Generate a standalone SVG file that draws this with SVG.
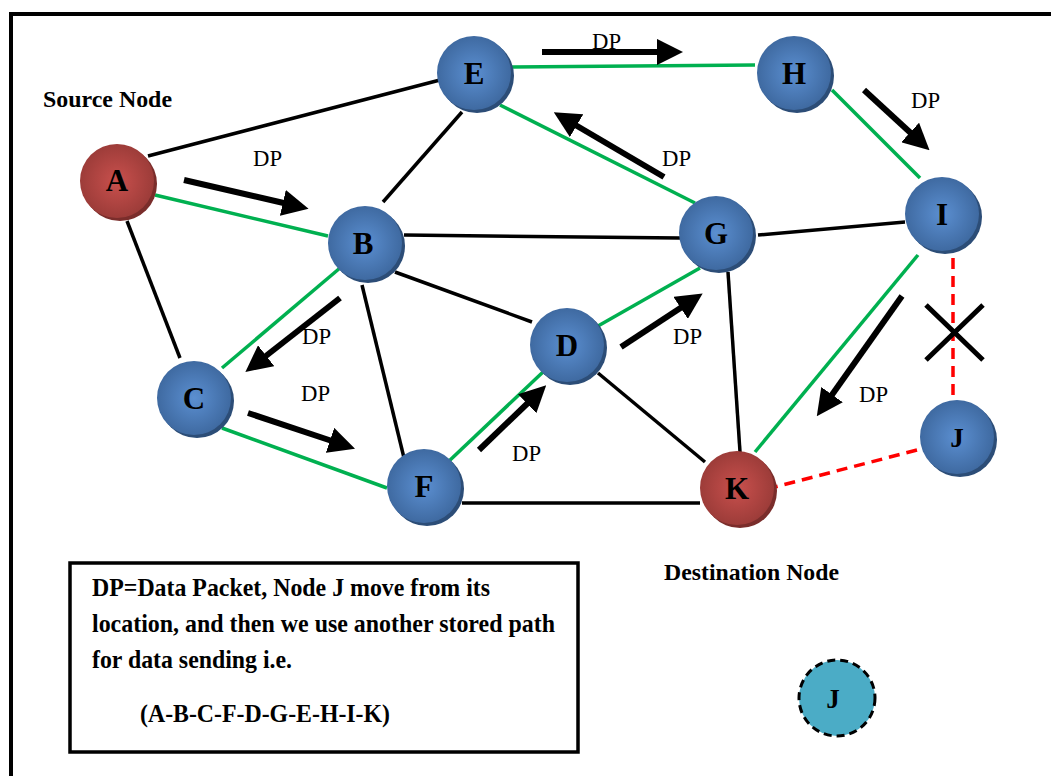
<svg xmlns="http://www.w3.org/2000/svg" width="1051" height="776" viewBox="0 0 1051 776">
<style>
.blk{stroke:#000;stroke-width:3.5;fill:none}
.grn{stroke:#00b050;stroke-width:3.5;fill:none}
.red{stroke:#ff0000;stroke-width:3.5;fill:none;stroke-dasharray:11 7}
.arr{stroke:#000;stroke-width:6;fill:none;marker-end:url(#ah)}
</style>
<defs>
<radialGradient id="gb" cx="50%" cy="50%" r="55%">
<stop offset="0" stop-color="#5b8fd1"/><stop offset="1" stop-color="#3c669c"/>
</radialGradient>
<radialGradient id="gr" cx="50%" cy="50%" r="55%">
<stop offset="0" stop-color="#c9504d"/><stop offset="1" stop-color="#983a37"/>
</radialGradient>
<marker id="ah" viewBox="0 0 10 10" refX="2" refY="5" markerWidth="4.4" markerHeight="4.4" orient="auto" markerUnits="strokeWidth">
<path d="M0,0 L10,5 L0,10 z" fill="#000"/>
</marker>
</defs>
<rect x="11" y="14" width="1060" height="800" fill="#fff" stroke="#000" stroke-width="4"/>
<g id="connectors">
<line class="blk" x1="148" y1="156" x2="440" y2="80"/>
<line class="blk" x1="127" y1="221" x2="180" y2="358"/>
<line class="blk" x1="462" y1="112" x2="383" y2="202"/>
<line class="blk" x1="404" y1="235" x2="680" y2="238"/>
<line class="blk" x1="758" y1="235" x2="905" y2="222"/>
<line class="blk" x1="395" y1="272" x2="532" y2="322"/>
<line class="blk" x1="362" y1="285" x2="405" y2="462"/>
<line class="blk" x1="598" y1="373" x2="705" y2="462"/>
<line class="blk" x1="728" y1="272" x2="740" y2="452"/>
<line class="blk" x1="462" y1="503" x2="700" y2="503"/>
<line class="grn" x1="155" y1="195" x2="328" y2="236"/>
<line class="grn" x1="512" y1="67" x2="755" y2="65"/>
<line class="grn" x1="832" y1="90" x2="920" y2="178"/>
<line class="grn" x1="500" y1="105" x2="695" y2="203"/>
<line class="grn" x1="340" y1="268" x2="222" y2="368"/>
<line class="grn" x1="222" y1="428" x2="387" y2="488"/>
<line class="grn" x1="448" y1="462" x2="543" y2="372"/>
<line class="grn" x1="598" y1="326" x2="700" y2="268"/>
<line class="grn" x1="918" y1="255" x2="755" y2="452"/>
<line class="red" x1="953" y1="258" x2="953" y2="400"/>
<line class="red" x1="917" y1="450" x2="775" y2="487"/>
<path d="M926,305 L983,360 M983,305 L926,360" stroke="#000" stroke-width="5" fill="none"/>
<line class="arr" x1="184" y1="180" x2="288" y2="204"/>
<line class="arr" x1="542" y1="52" x2="662" y2="52"/>
<line class="arr" x1="864" y1="90" x2="914" y2="136"/>
<line class="arr" x1="664" y1="177" x2="572" y2="123"/>
<line class="arr" x1="340" y1="298" x2="262" y2="359"/>
<line class="arr" x1="248" y1="413" x2="335" y2="442"/>
<line class="arr" x1="479" y1="450" x2="531" y2="400"/>
<line class="arr" x1="621" y1="347" x2="685" y2="305"/>
<line class="arr" x1="902" y1="296" x2="829" y2="399"/>
<g font-family="Liberation Serif, Times New Roman, serif" font-size="23" fill="#000">
<text x="253" y="166" textLength="29" lengthAdjust="spacingAndGlyphs">DP</text>
<text x="592" y="49" textLength="29" lengthAdjust="spacingAndGlyphs">DP</text>
<text x="911" y="108" textLength="29" lengthAdjust="spacingAndGlyphs">DP</text>
<text x="662" y="166" textLength="29" lengthAdjust="spacingAndGlyphs">DP</text>
<text x="302" y="344" textLength="29" lengthAdjust="spacingAndGlyphs">DP</text>
<text x="301" y="401" textLength="29" lengthAdjust="spacingAndGlyphs">DP</text>
<text x="512" y="461" textLength="29" lengthAdjust="spacingAndGlyphs">DP</text>
<text x="673" y="344" textLength="29" lengthAdjust="spacingAndGlyphs">DP</text>
<text x="859" y="402" textLength="29" lengthAdjust="spacingAndGlyphs">DP</text>
</g>
</g>
<g font-family="Liberation Serif, Times New Roman, serif" font-size="31" font-weight="bold" text-anchor="middle" fill="#000">
<g id="node-A"><circle cx="120" cy="184" r="37" fill="#7a2d2b"/><circle cx="117" cy="181" r="37" fill="url(#gr)"/><text x="117" y="191">A</text></g>
<g id="node-E"><circle cx="477" cy="76" r="37" fill="#2c4d77"/><circle cx="474" cy="73" r="37" fill="url(#gb)"/><text x="474" y="84">E</text></g>
<g id="node-H"><circle cx="797" cy="76" r="37" fill="#2c4d77"/><circle cx="794" cy="73" r="37" fill="url(#gb)"/><text x="794" y="84">H</text></g>
<g id="node-B"><circle cx="368" cy="246" r="37" fill="#2c4d77"/><circle cx="365" cy="243" r="37" fill="url(#gb)"/><text x="363" y="254">B</text></g>
<g id="node-G"><circle cx="719" cy="236" r="37" fill="#2c4d77"/><circle cx="716" cy="233" r="37" fill="url(#gb)"/><text x="716" y="244">G</text></g>
<g id="node-I"><circle cx="945" cy="217" r="37" fill="#2c4d77"/><circle cx="942" cy="214" r="37" fill="url(#gb)"/><text x="942" y="225">I</text></g>
<g id="node-C"><circle cx="197" cy="401" r="37" fill="#2c4d77"/><circle cx="194" cy="398" r="37" fill="url(#gb)"/><text x="194" y="409">C</text></g>
<g id="node-D"><circle cx="570" cy="348" r="37" fill="#2c4d77"/><circle cx="567" cy="345" r="37" fill="url(#gb)"/><text x="567" y="356">D</text></g>
<g id="node-F"><circle cx="427" cy="489" r="37" fill="#2c4d77"/><circle cx="424" cy="486" r="37" fill="url(#gb)"/><text x="424" y="497">F</text></g>
<g id="node-K"><circle cx="740" cy="491" r="37" fill="#7a2d2b"/><circle cx="737" cy="488" r="37" fill="url(#gr)"/><text x="737" y="499">K</text></g>
<g id="node-J"><circle cx="960" cy="440" r="37" fill="#2c4d77"/><circle cx="957" cy="437" r="37" fill="url(#gb)"/><text x="957" y="447" font-size="27">J</text></g>
<g id="node-J-moved"><circle cx="837" cy="698" r="38" fill="#4bacc6" stroke="#000" stroke-width="3" stroke-dasharray="8 5"/><text x="833" y="708" font-size="27">J</text></g>
</g>
<g id="labels" font-family="Liberation Serif, Times New Roman, serif" font-size="23" font-weight="bold" fill="#000">
<text x="43" y="107" textLength="129" lengthAdjust="spacingAndGlyphs">Source Node</text>
<text x="664" y="580" textLength="175" lengthAdjust="spacingAndGlyphs">Destination Node</text>
</g>
<g id="legend" font-family="Liberation Serif, Times New Roman, serif" font-size="26" font-weight="bold" fill="#000">
<rect x="70" y="563" width="508" height="189" fill="#fff" stroke="#000" stroke-width="3.5"/>
<text x="92" y="596" textLength="398" lengthAdjust="spacingAndGlyphs">DP=Data Packet, Node J move from its</text>
<text x="92" y="632" textLength="463" lengthAdjust="spacingAndGlyphs">location, and then we use another stored path</text>
<text x="92" y="668" textLength="200" lengthAdjust="spacingAndGlyphs">for data sending i.e.</text>
<text x="140" y="722" textLength="250" lengthAdjust="spacingAndGlyphs">(A-B-C-F-D-G-E-H-I-K)</text>
</g>
</svg>
